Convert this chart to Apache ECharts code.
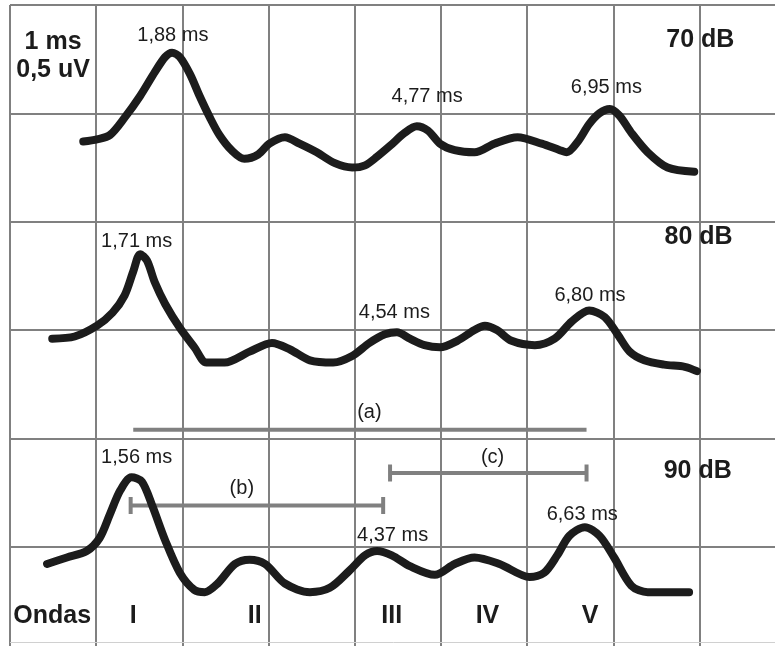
<!DOCTYPE html>
<html>
<head>
<meta charset="utf-8">
<script src="https://cdn.jsdelivr.net/npm/echarts@6/dist/echarts.min.js"></script>
<style>
  html, body { margin: 0; padding: 0; background: #fff; overflow: hidden; }
  /* the sheet runs a little past the right and bottom edges of the window, as in the scan */
  #chart { width: 790px; height: 660px; }
</style>
</head>
<body>
<div id="chart"></div>
<script>
// time in ms from the left border, amplitude in uV (0,5 uV per division)
const wave70 = [
  [0.85, 2.37], [1.01, 2.38], [1.16, 2.40], [1.33, 2.48], [1.51, 2.58], [1.68, 2.69],
  [1.80, 2.76], [1.88, 2.78], [1.97, 2.76], [2.09, 2.68], [2.20, 2.58], [2.32, 2.48],
  [2.43, 2.40], [2.57, 2.33], [2.72, 2.29], [2.88, 2.31], [3.01, 2.36], [3.19, 2.39],
  [3.36, 2.36], [3.56, 2.32], [3.77, 2.27], [3.97, 2.25], [4.12, 2.26], [4.26, 2.30],
  [4.41, 2.35], [4.58, 2.41], [4.72, 2.44], [4.85, 2.42], [4.99, 2.36], [5.16, 2.33],
  [5.39, 2.32], [5.62, 2.36], [5.89, 2.39], [6.17, 2.36], [6.38, 2.33], [6.46, 2.32],
  [6.59, 2.37], [6.72, 2.45], [6.84, 2.50], [6.96, 2.52], [7.07, 2.49], [7.21, 2.41],
  [7.40, 2.32], [7.63, 2.25], [7.94, 2.23]
];
const wave80 = [
  [0.49, 1.46], [0.75, 1.47], [1.01, 1.52], [1.19, 1.58], [1.33, 1.66], [1.43, 1.77],
  [1.51, 1.85], [1.59, 1.82], [1.68, 1.72], [1.80, 1.62], [1.97, 1.51], [2.14, 1.42],
  [2.28, 1.35], [2.49, 1.35], [2.78, 1.40], [3.04, 1.44], [3.25, 1.41], [3.48, 1.36],
  [3.75, 1.35], [3.97, 1.38], [4.17, 1.44], [4.35, 1.48], [4.49, 1.49], [4.64, 1.46],
  [4.81, 1.43], [4.99, 1.42], [5.19, 1.45], [5.39, 1.50], [5.51, 1.52], [5.65, 1.50],
  [5.82, 1.45], [6.09, 1.43], [6.32, 1.46], [6.52, 1.54], [6.72, 1.59], [6.90, 1.56],
  [7.05, 1.48], [7.19, 1.40], [7.36, 1.36], [7.59, 1.34], [7.83, 1.33], [7.97, 1.31]
];
const wave90 = [
  [0.43, 0.42], [0.66, 0.45], [0.89, 0.48], [1.04, 0.54], [1.16, 0.65], [1.28, 0.76],
  [1.41, 0.82], [1.53, 0.80], [1.65, 0.69], [1.80, 0.53], [1.97, 0.38], [2.14, 0.30],
  [2.26, 0.29], [2.41, 0.33], [2.61, 0.42], [2.78, 0.44], [2.96, 0.42], [3.19, 0.33],
  [3.48, 0.29], [3.71, 0.31], [3.94, 0.39], [4.12, 0.46], [4.26, 0.48], [4.43, 0.46],
  [4.64, 0.41], [4.93, 0.37], [5.16, 0.42], [5.39, 0.45], [5.68, 0.42], [6.03, 0.36],
  [6.20, 0.38], [6.35, 0.46], [6.49, 0.55], [6.67, 0.59], [6.84, 0.55], [7.01, 0.45],
  [7.21, 0.32], [7.40, 0.29], [7.65, 0.29], [7.88, 0.29]
];

// latency annotations: text and anchor [ms, uV]
const latencyNames = ['1,88 ms', '4,77 ms', '6,95 ms', '1,71 ms', '4,54 ms', '6,80 ms', '1,56 ms', '4,37 ms', '6,63 ms'];
const latencyAnchors = [
  [1.89, 2.86], [4.84, 2.58], [6.92, 2.62],
  [1.47, 1.91], [4.46, 1.58], [6.73, 1.66],
  [1.47, 0.91], [4.44, 0.55], [6.64, 0.65]
];
const levelNames = ['70 dB', '80 dB', '90 dB'];
const levelAnchors = [[8.01, 2.84], [7.99, 1.93], [7.98, 0.85]];
const scaleNames = ['1 ms', '0,5 uV'];
const scaleAnchors = [[0.5, 2.83], [0.5, 2.70]];
const waveNames = ['Ondas', 'I', 'II', 'III', 'IV', 'V'];
const waveAnchors = [[0.49, 0.18], [1.43, 0.18], [2.84, 0.18], [4.43, 0.18], [5.54, 0.18], [6.73, 0.18]];

// interpeak intervals (a) I-V, (b) I-III, (c) III-V
const intervalNames = ['(a)', '(b)', '(c)'];
const intervalSpans = [[1.43, 6.69], [1.40, 4.33], [4.41, 6.69]];
const intervalLevels = [1.04, 0.69, 0.84];
const intervalLabelAnchors = [[4.17, 1.12], [2.69, 0.77], [5.60, 0.91]];

const chart = echarts.init(document.getElementById('chart'));

const waveStyle = { color: '#1c1c1c', width: 8, cap: 'round', join: 'round' };
const gray = '#808080';
const ink = '#1c1c1c';

function waveSeries(data) {
  return {
    type: 'line',
    data,
    smooth: 0.3,
    symbol: 'none',
    lineStyle: waveStyle,
    z: 5,
  };
}

function textSeries(names, anchors, font) {
  return {
    type: 'scatter',
    symbolSize: 0,
    silent: true,
    z: 10,
    itemStyle: { opacity: 1 },
    data: names.map((name, i) => ({ name, value: anchors[i] })),
    label: {
      show: true,
      position: 'inside',
      formatter: '{b}',
      color: ink,
      textBorderWidth: 0,
      fontFamily: 'Liberation Sans, Arial, sans-serif',
      ...font,
    },
  };
}

const series = [
  waveSeries(wave70),
  waveSeries(wave80),
  waveSeries(wave90),
];

intervalSpans.forEach((span, i) => {
  const lv = intervalLevels[i];
  series.push({
    type: 'line',
    data: [[span[0], lv], [span[1], lv]],
    symbol: 'none',
    lineStyle: { color: gray, width: 4 },
    z: 4,
  });
  if (i > 0) {
    series.push({
      type: 'scatter',
      symbol: 'rect',
      symbolSize: [4, 17],
      itemStyle: { color: gray, opacity: 1 },
      data: [[span[0], lv], [span[1], lv]],
      z: 4,
    });
  }
});

series.push(textSeries(latencyNames, latencyAnchors, { fontSize: 20 }));
series.push(textSeries(intervalNames, intervalLabelAnchors, { fontSize: 20 }));
series.push(textSeries(levelNames, levelAnchors, { fontSize: 25, fontWeight: 'bold' }));
series.push(textSeries(scaleNames, scaleAnchors, { fontSize: 25, fontWeight: 'bold' }));
series.push(textSeries(waveNames, waveAnchors, { fontSize: 25, fontWeight: 'bold' }));

// faint bottom edge of the recording sheet
series.push({
  type: 'line',
  data: [],
  markLine: {
    silent: true,
    symbol: 'none',
    label: { show: false },
    lineStyle: { color: '#d0d0d0', width: 1, type: 'solid' },
    data: [{ yAxis: 0.055 }],
  },
});

chart.setOption({
  animation: false,
  backgroundColor: '#fff',
  grid: { left: 10, top: 5, width: 767, height: 650 },
  xAxis: {
    type: 'value',
    min: 0,
    max: 8.9,
    interval: 1,
    axisLine: { show: false },
    axisTick: { show: false },
    axisLabel: { show: false },
    splitLine: { show: true, lineStyle: { color: gray, width: 2 } },
  },
  yAxis: {
    type: 'value',
    min: 0,
    max: 3,
    interval: 0.5,
    axisLine: { show: false },
    axisTick: { show: false },
    axisLabel: { show: false },
    splitLine: { show: true, lineStyle: { color: gray, width: 2 } },
  },
  series,
});
</script>
</body>
</html>
